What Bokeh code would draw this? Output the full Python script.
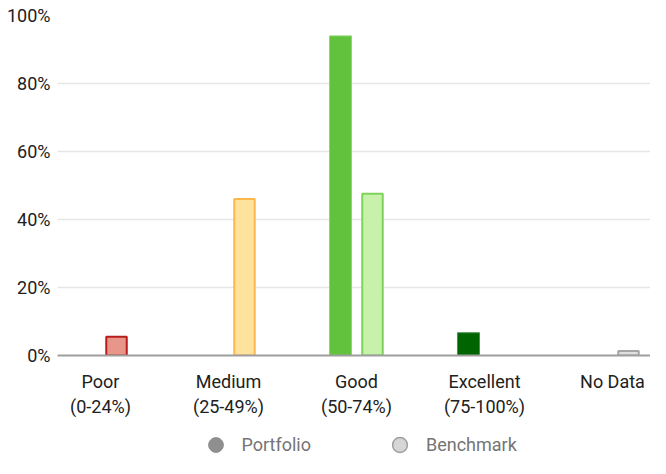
from bokeh.plotting import figure
from bokeh.layouts import column
from bokeh.models import (ColumnDataSource, FixedTicker, PrintfTickFormatter,
                          Legend, LegendItem, Range1d)
from bokeh.embed import file_html
from bokeh.resources import INLINE

categories = ["Poor\n(0-24%)", "Medium\n(25-49%)", "Good\n(50-74%)",
              "Excellent\n(75-100%)", "No Data"]
portfolio = [0, 0, 94.0, 6.7, 0]
benchmark = [5.5, 46.0, 47.6, 0, 1.3]
y_ticks = [0, 20, 40, 60, 80, 100]
series_names = ["Portfolio", "Benchmark"]

portfolio_fill = ["#C62828", "#FFA726", "#63C23D", "#006400", "#9E9E9E"]
portfolio_line = ["#D85050", "#FFC060", "#8ED66F", "#4A8F4A", "#BDBDBD"]
benchmark_fill = ["#E8968A", "#FFE29C", "#C8F2AB", "#7FB87F", "#E0E0E0"]
benchmark_line = ["#B71C1C", "#FFB74D", "#7DD35A", "#2E7D32", "#A6A6A6"]

FONT = "Roboto"
W = 650
H1 = 422
H2 = 36
n = len(categories)
xs = list(range(n))
off = 0.125
bw = 0.172

def build(vals, fills, lines, shift):
    d = dict(x=[], top=[], fill=[], line=[])
    for i in range(n):
        if vals[i] > 0:
            d["x"].append(xs[i] + shift)
            d["top"].append(vals[i])
            d["fill"].append(fills[i])
            d["line"].append(lines[i])
    return ColumnDataSource(d)

p = figure(width=W, height=H1, output_backend="svg", toolbar_location=None,
           x_range=Range1d(-0.336, 4.297), y_range=Range1d(0, 100),
           min_border_left=57, min_border_right=0, min_border_top=15,
           min_border_bottom=67)
p.outline_line_color = None

src_p = build(portfolio, portfolio_fill, portfolio_line, -off)
src_b = build(benchmark, benchmark_fill, benchmark_line, off)
p.vbar(x="x", top="top", bottom=0, width=bw, source=src_p,
       fill_color="fill", line_color="line", line_width=1)
p.vbar(x="x", top="top", bottom=0, width=bw - 0.012, source=src_b,
       fill_color="fill", line_color="line", line_width=2)

p.xaxis.ticker = FixedTicker(ticks=xs)
p.xaxis.major_label_overrides = {i: categories[i] for i in xs}
p.xaxis.major_tick_in = 0
p.xaxis.major_tick_out = 0
p.xaxis.minor_tick_line_color = None
p.xaxis.axis_line_color = "#9E9E9E"
p.xaxis.axis_line_width = 2
p.xaxis.major_label_text_font = FONT
p.xaxis.major_label_text_font_size = "18px"
p.xaxis.major_label_text_color = "#212121"
p.xaxis.major_label_standoff = 15

p.yaxis.ticker = FixedTicker(ticks=y_ticks)
p.yaxis.formatter = PrintfTickFormatter(format="%d%%")
p.yaxis.major_tick_in = 0
p.yaxis.major_tick_out = 0
p.yaxis.minor_tick_line_color = None
p.yaxis.axis_line_color = None
p.yaxis.major_label_text_font = FONT
p.yaxis.major_label_text_font_size = "18px"
p.yaxis.major_label_text_color = "#212121"
p.yaxis.major_label_standoff = 7

p.xgrid.grid_line_color = None
p.ygrid.ticker = FixedTicker(ticks=y_ticks)
p.ygrid.grid_line_color = "#E6E6E6"
p.ygrid.grid_line_width = 1.5

# legend strip below the chart
q = figure(width=W, height=H2, output_backend="svg", toolbar_location=None,
           x_range=Range1d(0, 1), y_range=Range1d(0, 1), min_border=0,
           x_axis_location=None, y_axis_location=None)
q.grid.grid_line_color = None
q.outline_line_color = None
nan = float("nan")
r_p = q.scatter(x=[nan], y=[nan], marker="circle", fill_color="#8F8F8F",
                line_color="#8F8F8F")
r_b = q.scatter(x=[nan], y=[nan], marker="circle", fill_color="#D6D6D6",
                line_color="#9E9E9E", line_width=1.5)
legend = Legend(items=[LegendItem(label=series_names[0], renderers=[r_p]),
                       LegendItem(label=series_names[1], renderers=[r_b])],
                orientation="horizontal", location=(139.5, -4.5),
                glyph_width=37, glyph_height=37, label_standoff=8, spacing=70,
                padding=0, margin=0, border_line_color=None,
                background_fill_alpha=0,
                label_text_font=FONT, label_text_font_size="18px",
                label_text_color="#757575")
q.add_layout(legend, "center")

open("out.html", "w").write(file_html(column(p, q, spacing=0), INLINE))
